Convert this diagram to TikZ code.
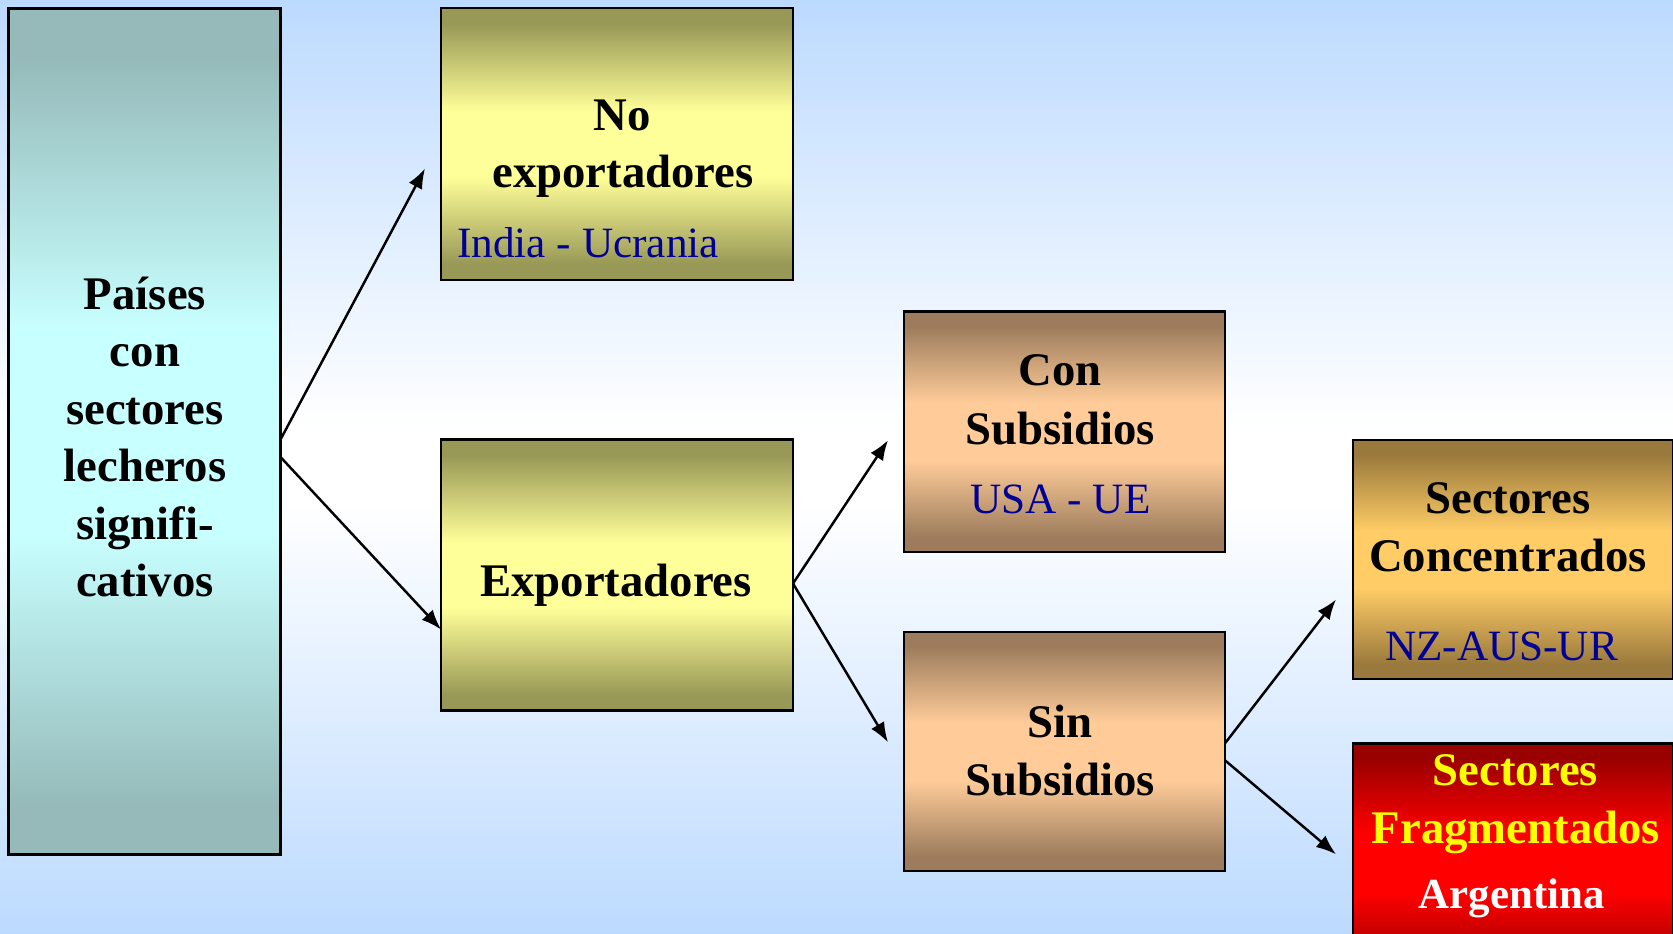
\documentclass[tikz,border=0pt]{standalone}
\usepackage{fontspec}
\setmainfont{Liberation Serif}
\usetikzlibrary{arrows.meta,calc}
\definecolor{bgblue}{RGB}{188,218,255}
\definecolor{tealdark}{RGB}{150,186,186}
\definecolor{teallight}{RGB}{200,255,255}
\definecolor{olivedark}{RGB}{153,153,87}
\definecolor{olivelight}{RGB}{255,255,153}
\definecolor{browndark}{RGB}{156,124,92}
\definecolor{brownlight}{RGB}{255,204,153}
\definecolor{golddark}{RGB}{153,121,60}
\definecolor{goldlight}{RGB}{255,204,102}
\definecolor{reddark}{RGB}{153,0,0}
\definecolor{redlight}{RGB}{255,0,0}
\definecolor{navy}{RGB}{0,0,150}
\definecolor{yel}{RGB}{255,255,0}
\pgfdeclareverticalshading{bgsh}{100bp}{color(0bp)=(bgblue); color(25bp)=(bgblue); color(48bp)=(white); color(52bp)=(white); color(75bp)=(bgblue); color(100bp)=(bgblue)}
\pgfdeclareverticalshading{tealsh}{100bp}{color(0bp)=(tealdark); color(25bp)=(tealdark); color(28bp)=(tealdark); color(44bp)=(teallight); color(56bp)=(teallight); color(72bp)=(tealdark); color(75bp)=(tealdark); color(100bp)=(tealdark)}
\pgfdeclareverticalshading{olivesh}{100bp}{color(0bp)=(olivedark); color(25bp)=(olivedark); color(28bp)=(olivedark); color(44bp)=(olivelight); color(56bp)=(olivelight); color(72bp)=(olivedark); color(75bp)=(olivedark); color(100bp)=(olivedark)}
\pgfdeclareverticalshading{brownsh}{100bp}{color(0bp)=(browndark); color(25bp)=(browndark); color(28bp)=(browndark); color(44bp)=(brownlight); color(56bp)=(brownlight); color(72bp)=(browndark); color(75bp)=(browndark); color(100bp)=(browndark)}
\pgfdeclareverticalshading{goldsh}{100bp}{color(0bp)=(golddark); color(25bp)=(golddark); color(28bp)=(golddark); color(44bp)=(goldlight); color(56bp)=(goldlight); color(72bp)=(golddark); color(75bp)=(golddark); color(100bp)=(golddark)}
\pgfdeclareverticalshading{redsh}{100bp}{color(0bp)=(reddark); color(25bp)=(reddark); color(28bp)=(reddark); color(44bp)=(redlight); color(56bp)=(redlight); color(72bp)=(reddark); color(75bp)=(reddark); color(100bp)=(reddark)}
\tikzset{
  box/.style={draw=black, line width=0.7pt, shade, inner sep=0pt, outer sep=0pt},
  lbl/.style={anchor=base, inner sep=0pt, font=\fontsize{13.3}{16}\selectfont\bfseries},
  blu/.style={anchor=base, inner sep=0pt, text=navy, font=\fontsize{12.3}{15}\selectfont},
  arr/.style={line width=0.7pt, -{Latex[length=2mm,width=1.5mm]}}
}
\begin{document}
\begin{tikzpicture}[x=0.1mm,y=-0.1mm]
\clip (0,0) rectangle (1673,933);
\shade[shading=bgsh] (0,0) rectangle (1673,933);
% boxes
\node[box, shading=tealsh, minimum width=27.2mm, minimum height=84.6mm] (pais) at (144.5,431.5) {};
\node[box, shading=olivesh, minimum width=35.2mm, minimum height=27.2mm] (noexp) at (617,144) {};
\node[box, shading=olivesh, minimum width=35.2mm, minimum height=27.1mm] (exp) at (617,575) {};
\node[box, shading=brownsh, minimum width=32.1mm, minimum height=24.05mm] (con) at (1064.5,431.7) {};
\node[box, shading=brownsh, minimum width=32.1mm, minimum height=23.9mm] (sin) at (1064.5,751.3) {};
\node[box, shading=goldsh, minimum width=32mm, minimum height=23.9mm] (conc) at (1513,559.5) {};
\node[box, shading=redsh, minimum width=32mm, minimum height=24mm] (frag) at (1513,863.3) {};
% texts
\node[lbl] (p1) at (145,309) {Países};
\node[lbl] (p2) at (145,366.5) {con};
\node[lbl] (p3) at (145,424) {sectores};
\node[lbl] (p4) at (145,481.5) {lecheros};
\node[lbl] (p5) at (145,539) {signifi-};
\node[lbl] (p6) at (145,596.5) {cativos};
\node[lbl] (n1) at (622.5,130) {No};
\node[lbl] (n2) at (623,187) {exportadores};
\node[blu] (n3) at (588,257.5) {India - Ucrania};
\node[lbl] (e1) at (616,596) {Exportadores};
\node[lbl] (c1) at (1060,385.5) {Con};
\node[lbl] (c2) at (1060,444) {Subsidios};
\node[blu] (c3) at (1060.5,513) {USA - UE};
\node[lbl] (s1) at (1060,737.5) {Sin};
\node[lbl] (s2) at (1060,795.7) {Subsidios};
\node[lbl] (k1) at (1508,513.7) {Sectores};
\node[lbl] (k2) at (1508,571.3) {Concentrados};
\node[blu] (k3) at (1501.5,660) {NZ-AUS-UR};
\node[lbl, text=yel] (f1) at (1515.5,785.3) {Sectores};
\node[lbl, text=yel] (f2) at (1515.8,843.7) {Fragmentados};
\node[lbl, text=white, font=\fontsize{12.2}{15}\selectfont\bfseries] (f3) at (1511.7,908.5) {Argentina};
% arrow endpoints
\coordinate (t1) at ($(noexp.west)+(-16,24.5)$);
\coordinate (t3) at ($(con.west)+(-16,8.5)$);
\coordinate (t4) at ($(sin.west)+(-16,-9)$);
\coordinate (t5) at ($(conc.west)+(-17,40)$);
\coordinate (t6) at ($(frag.west)+(-17,-9)$);
% connectors
\draw[arr] ($(pais.east)+(0,8)$) -- (t1);
\draw[arr] ($(pais.east)+(0,25.5)$) -- ($(exp.west)+(0,54.5)$);
\draw[arr] ($(exp.east)+(0,8.5)$) -- (t3);
\draw[arr] ($(exp.east)+(0,8.5)$) -- (t4);
\draw[arr] ($(sin.east)+(0,-8)$) -- (t5);
\draw[arr] ($(sin.east)+(0,9)$) -- (t6);
\end{tikzpicture}
\end{document}
